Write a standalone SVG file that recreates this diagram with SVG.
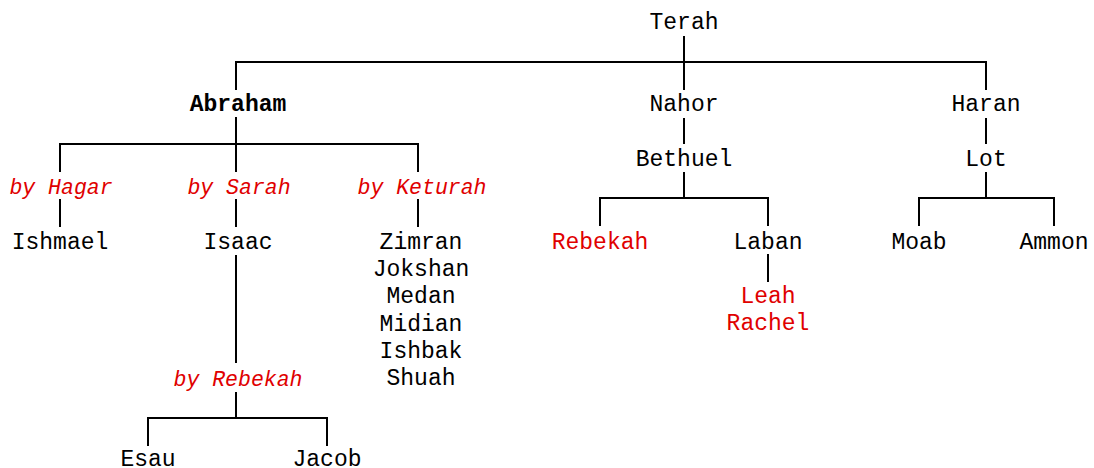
<svg xmlns="http://www.w3.org/2000/svg" width="1094" height="468" viewBox="0 0 1094 468">
<style>
text{font-family:"Liberation Mono","Courier New",monospace;font-size:23px;text-anchor:middle;fill:#000}
.b{font-weight:bold}
.r{fill:#e00000}
.i{font-style:italic;fill:#e00000;font-size:21.5px}
.c path{fill:none;stroke:#000;stroke-width:2}
</style>
<rect width="1094" height="468" fill="#fff"/>
<g class="c" id="connectors">
<path d="M684 36V62M236 90V62H986V90"/>
<path d="M236 117V144M60 172V144H418V172M236 144V172"/>
<path d="M60 199V227M236 199V227M418 199V227"/>
<path d="M236 255V363M236 392V418M148 446V418H327V446"/>
<path d="M684 90V62M684 118V144M684 172V198M600 226V198H768V226M768 254V282"/>
<path d="M986 118V144M986 172V198M919 226V198H1054V226"/>
</g>
<g id="terah"><text x="684" y="29">Terah</text></g>
<g id="abraham"><text class="b" x="238" y="111">Abraham</text></g>
<g id="nahor"><text x="684" y="111">Nahor</text></g>
<g id="haran"><text x="986" y="111">Haran</text></g>
<g id="hagar"><text class="i" x="61" y="194">by Hagar</text></g>
<g id="sarah"><text class="i" x="239" y="194">by Sarah</text></g>
<g id="keturah"><text class="i" x="422" y="194">by Keturah</text></g>
<g id="bethuel"><text x="684" y="166">Bethuel</text></g>
<g id="lot"><text x="986" y="166">Lot</text></g>
<g id="ishmael"><text x="60" y="249">Ishmael</text></g>
<g id="isaac"><text x="238" y="249">Isaac</text></g>
<g id="keturah-sons"><text x="421" y="249">Zimran</text><text x="421" y="276">Jokshan</text><text x="421" y="303">Medan</text><text x="421" y="331">Midian</text><text x="421" y="358">Ishbak</text><text x="421" y="385">Shuah</text></g>
<g id="rebekah"><text class="r" x="600" y="249">Rebekah</text></g>
<g id="laban"><text x="768" y="249">Laban</text></g>
<g id="leah-rachel"><text class="r" x="768" y="303">Leah</text><text class="r" x="768" y="330">Rachel</text></g>
<g id="moab"><text x="919" y="249">Moab</text></g>
<g id="ammon"><text x="1054" y="249">Ammon</text></g>
<g id="byrebekah"><text class="i" x="238" y="386">by Rebekah</text></g>
<g id="esau"><text x="148" y="466">Esau</text></g>
<g id="jacob"><text x="327" y="466">Jacob</text></g>
</svg>
